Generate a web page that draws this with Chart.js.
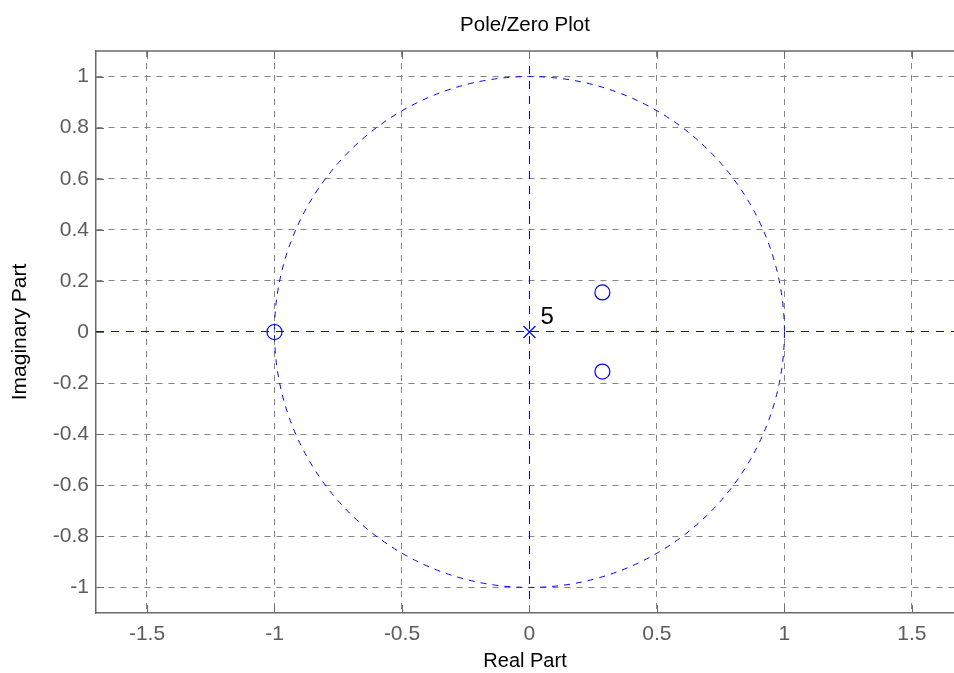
<!DOCTYPE html>
<html><head><meta charset="utf-8">
<script src="https://cdn.jsdelivr.net/npm/chart.js@4"></script>
<style>html,body{margin:0;padding:0;overflow:hidden;background:#fff}canvas{display:block}</style>
</head><body><canvas id="c" width="954" height="673"></canvas>
<script>
const xTicks = [-1.5, -1, -0.5, 0, 0.5, 1, 1.5];
const yTicks = [-1, -0.8, -0.6, -0.4, -0.2, 0, 0.2, 0.4, 0.6, 0.8, 1];
const xRange = [-1.7, 1.665];
const yRange = [-1.1, 1.1];
const realAxisX = [-1.7, 1.7];
const imagAxisY = [-1.1, 1.1];
const zerosRe = [-1, 0.286, 0.286];
const zerosIm = [0, 0.155, -0.155];
const polesRe = [0];
const polesIm = [0];
const poleMult = [5];
const unitCircleRadius = 1;

const BLUE = '#0000ff';
const BOX = '#6a6a6a';
const GRID = '#858585';
const FONT = '"Liberation Sans", Arial, sans-serif';

const unitCirclePlugin = {
  id: 'unitCircle',
  beforeDatasetsDraw(chart) {
    const {ctx, chartArea, scales: {x, y}} = chart;
    const cx = x.getPixelForValue(0), cy = y.getPixelForValue(0);
    const rx = x.getPixelForValue(unitCircleRadius) - cx;
    const ry = cy - y.getPixelForValue(unitCircleRadius);
    ctx.save();
    ctx.beginPath();
    ctx.rect(chartArea.left, chartArea.top, chartArea.right - chartArea.left, chartArea.bottom - chartArea.top);
    ctx.clip();
    ctx.strokeStyle = BLUE; ctx.lineWidth = 1; ctx.setLineDash([6, 6]);
    ctx.beginPath(); ctx.ellipse(cx, cy, rx, ry, 0, 0, Math.PI * 2); ctx.stroke();
    // real axis (y = 0) and imaginary axis (x = 0)
    ctx.setLineDash([8, 7]);
    const ay = Math.round(cy) - 0.5;
    ctx.beginPath();
    ctx.moveTo(x.getPixelForValue(realAxisX[0]), ay);
    ctx.lineTo(x.getPixelForValue(realAxisX[1]), ay);
    ctx.stroke();
    const ax = Math.round(cx) + 0.5;
    ctx.beginPath();
    ctx.moveTo(ax, y.getPixelForValue(imagAxisY[1]));
    ctx.lineTo(ax, y.getPixelForValue(imagAxisY[0]));
    ctx.stroke();
    ctx.restore();
  },
  afterDatasetsDraw(chart) {
    const {ctx, scales: {x, y}} = chart;
    ctx.save();
    ctx.fillStyle = '#000';
    ctx.font = '24px ' + FONT;
    ctx.textAlign = 'left'; ctx.textBaseline = 'alphabetic';
    polesRe.forEach((re, i) => {
      if (poleMult[i] > 1) {
        ctx.fillText(String(poleMult[i]), x.getPixelForValue(re) + 11, y.getPixelForValue(polesIm[i]) - 8);
      }
    });
    ctx.restore();
  },
  afterDraw(chart) {
    const {ctx, chartArea: a, scales: {x, y}} = chart;
    ctx.save();
    ctx.strokeStyle = BOX; ctx.lineWidth = 1.5; ctx.setLineDash([]);
    ctx.beginPath();
    ctx.moveTo(a.left, a.top); ctx.lineTo(a.right, a.top);
    ctx.stroke();
    ctx.lineWidth = 1;
    const L = 8;
    ctx.beginPath();
    xTicks.forEach(v => {
      const px = Math.round(x.getPixelForValue(v)) + 0.5;
      ctx.moveTo(px, a.bottom); ctx.lineTo(px, a.bottom - L);
      ctx.moveTo(px, a.top); ctx.lineTo(px, a.top + L);
    });
    yTicks.forEach(v => {
      const py = Math.round(y.getPixelForValue(v)) + 0.5;
      ctx.moveTo(a.left, py); ctx.lineTo(a.left + L, py);
    });
    ctx.stroke();
    ctx.restore();
  }
};

const fmt = v => String(Math.round(v * 10) / 10);
const gridColor = c => (c.tick && Math.abs(c.tick.value) < 1e-9) ? 'rgba(0,0,0,0)' : GRID;

new Chart(document.getElementById('c'), {
  type: 'scatter',
  data: {
    datasets: [
      {
        label: 'Zeros',
        data: zerosRe.map((re, i) => ({x: re, y: zerosIm[i]})),
        pointStyle: 'circle', pointRadius: 7.5, pointBorderWidth: 1.2,
        pointBorderColor: BLUE, pointBackgroundColor: 'rgba(0,0,0,0)'
      },
      {
        label: 'Poles',
        data: polesRe.map((re, i) => ({x: re, y: polesIm[i]})),
        pointStyle: 'crossRot', pointRadius: 8.5, pointBorderWidth: 1.2,
        pointBorderColor: BLUE, pointBackgroundColor: BLUE
      }
    ]
  },
  options: {
    responsive: false,
    animation: false,
    devicePixelRatio: 1,
    layout: {padding: 0, autoPadding: false},
    plugins: {
      legend: {display: false},
      tooltip: {enabled: false},
      title: {
        display: true, fullSize: false, text: 'Pole/Zero Plot', color: '#000',
        font: {family: FONT, size: 20.5, weight: 'normal', lineHeight: 1.2},
        padding: {top: 13, bottom: 13.4}
      }
    },
    scales: {
      x: {
        type: 'linear', min: xRange[0], max: xRange[1],
        afterBuildTicks: s => { s.ticks = xTicks.map(v => ({value: v})); },
        afterFit: s => { s.height = 60; s.paddingLeft = 0; s.paddingRight = 0; },
        grid: {color: gridColor, lineWidth: 1, drawTicks: false},
        border: {display: true, color: BOX, width: 1.5, dash: [6, 6]},
        ticks: {color: '#5c5c5c', font: {family: FONT, size: 21}, padding: 9, callback: fmt, maxRotation: 0, autoSkip: false},
        title: {display: true, text: 'Real Part', color: '#000', font: {family: FONT, size: 20, lineHeight: 1.2}, padding: {top: 0, bottom: 0}}
      },
      y: {
        type: 'linear', min: yRange[0], max: yRange[1],
        afterBuildTicks: s => { s.ticks = yTicks.map(v => ({value: v})); },
        afterFit: s => { s.width = 96; s.paddingTop = 0; s.paddingBottom = 0; },
        grid: {color: gridColor, lineWidth: 1, drawTicks: false},
        border: {display: true, color: BOX, width: 1.5, dash: [6, 6]},
        ticks: {color: '#5c5c5c', font: {family: FONT, size: 21}, padding: 7, callback: fmt, autoSkip: false},
        title: {display: true, text: 'Imaginary Part', color: '#000', font: {family: FONT, size: 21, lineHeight: 1.2}, padding: {top: 8, bottom: 0}}
      }
    }
  },
  plugins: [unitCirclePlugin]
});
</script>
</body></html>
